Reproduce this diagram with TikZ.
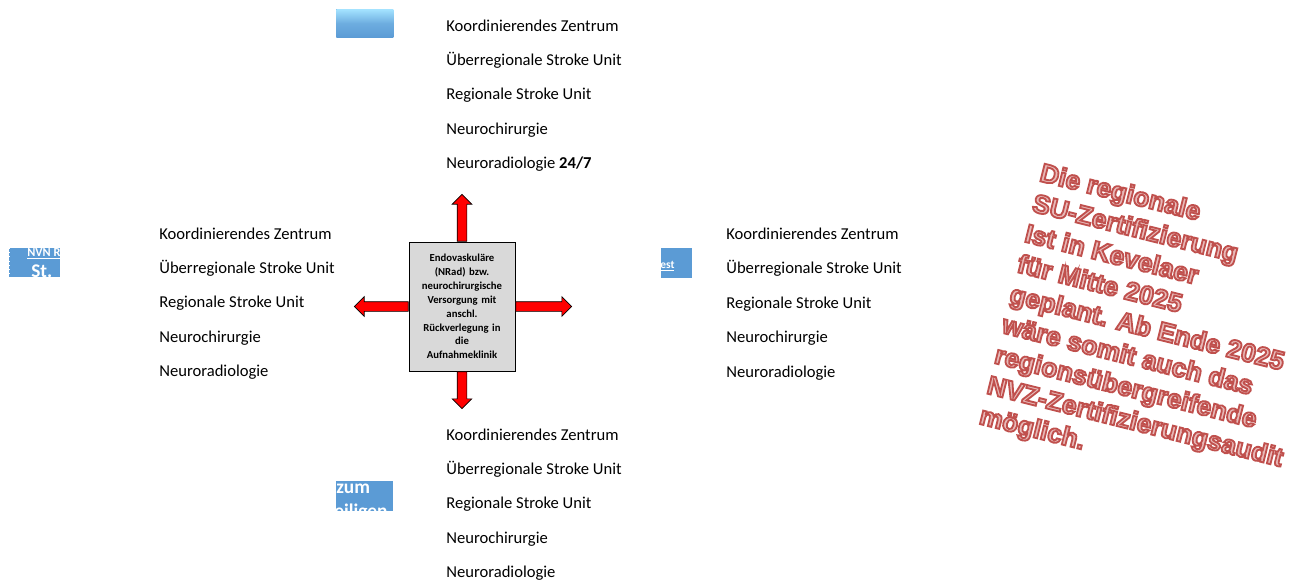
\documentclass[tikz,border=0pt]{standalone}
\usepackage{fontspec}
\setmainfont{Carlito}
\newfontfamily\notefont{Liberation Sans}
\usetikzlibrary{shapes.arrows}
\definecolor{btnblue}{HTML}{5B9BD5}
\definecolor{btnlight}{HTML}{A3E2FF}
\definecolor{notered}{HTML}{C0504D}
\definecolor{notepink}{HTML}{E8BAB9}
\newdimen\pxu \pxu=0.02cm
% outlined text: pink fill, red stroke
\newcommand\outl[1]{\textcolor{notepink}{\special{pdf:literal direct q 2 Tr 1.05 w 0.753 0.314 0.302 RG}#1\special{pdf:literal direct Q}}}

\begin{document}
\begin{tikzpicture}[x=0.02cm,y=-0.02cm,
item/.style={%
anchor=mid west,
inner sep=0pt,
font=\fontsize{9.45}{11}\selectfont
},
core/.style={%
draw,
fill=black!15,
minimum width=106\pxu,
minimum height=129\pxu,
text width=98\pxu,
align=center,
inner sep=0pt,
font=\fontsize{6.1}{7.9}\selectfont\bfseries
},
bigarrow/.style={%
single arrow,
draw,
fill=red,
inner sep=4.5\pxu,
single arrow head extend=5\pxu,
anchor=tail
},
btn/.style={%
fill=btnblue,
anchor=north west,
inner sep=0pt
},
btntext/.style={%
anchor=base west,
inner sep=0pt,
text=white
},
notebox/.style={%
anchor=north west,
rotate=-14,
align=left,
inner sep=0pt,
font=\notefont\bfseries\fontsize{14.9}{17.8}\selectfont
},
]
\useasboundingbox(0,0)rectangle(1299,583);
%% centre
\node[core](core)at(462,306.5){Endovaskuläre\\(NRad) bzw.\\neurochirurgische\\Versorgung mit\\anschl.\\Rückverlegung in\\die\\Aufnahmeklinik};
\node[bigarrow,rotate=90,minimum height=47\pxu](arrN)at(core.north){};
\node[bigarrow,rotate=0,minimum height=56\pxu](arrE)at(core.east){};
\node[bigarrow,rotate=-90,minimum height=37\pxu](arrS)at(core.south){};
\node[bigarrow,rotate=180,minimum height=54\pxu](arrW)at(core.west){};
\begin{scope}[shift={(446,27)}]
%% top
\node[item](n1)at(0,0){Koordinierendes Zentrum};
\node[item](n2)at(0,34){Überregionale Stroke Unit};
\node[item](n3)at(0,68){Regionale Stroke Unit};
\node[item](n4)at(0,103){Neurochirurgie};
\node[item](n5)at(0,137){Neuroradiologie \textbf{24/7}};
\end{scope}
\begin{scope}[shift={(159,235)}]
%% left
\node[item](w1)at(0,0){Koordinierendes Zentrum};
\node[item](w2)at(0,34){Überregionale Stroke Unit};
\node[item](w3)at(0,68){Regionale Stroke Unit};
\node[item](w4)at(0,103){Neurochirurgie};
\node[item](w5)at(0,137){Neuroradiologie};
\end{scope}
\begin{scope}[shift={(726,235)}]
%% right
\node[item](e1)at(0,0){Koordinierendes Zentrum};
\node[item](e2)at(0,34){Überregionale Stroke Unit};
\node[item](e3)at(0,69){Regionale Stroke Unit};
\node[item](e4)at(0,103){Neurochirurgie};
\node[item](e5)at(0,138){Neuroradiologie};
\end{scope}
\begin{scope}[shift={(446,436)}]
%% bottom
\node[item](s1)at(0,0){Koordinierendes Zentrum};
\node[item](s2)at(0,34){Überregionale Stroke Unit};
\node[item](s3)at(0,68){Regionale Stroke Unit};
\node[item](s4)at(0,103){Neurochirurgie};
\node[item](s5)at(0,137){Neuroradiologie};
\end{scope}
%% buttons
\node[btn,minimum width=57\pxu,minimum height=28\pxu,top color=btnlight,bottom color=btnblue,middle color=btnblue!75!btnlight](btnN)at(336,9){};
\node[btn,minimum width=51\pxu,minimum height=29\pxu](btnW)at(9,248){};
\begin{scope}
\clip(btnW.north west)rectangle(btnW.south east);
\node[btntext,font=\fontsize{7}{8}\selectfont\bfseries](btnW1)at(27,256){\underline{NVN R}};
\node[btntext,font=\fontsize{11}{12}\selectfont\bfseries](btnW2)at(31,277){St.};
\end{scope}
\draw[dotted,white](btnW.north west)--(btnW.south west);
\node[btn,minimum width=31\pxu,minimum height=30\pxu](btnE)at(661,248){};
\begin{scope}
\clip(btnE.north west)rectangle(btnE.south east);
\node[btntext,font=\fontsize{6.5}{7}\selectfont\bfseries](btnE1)at(660,268){\underline{est}};
\end{scope}
\draw[dotted,white](btnE.north east)--(btnE.south east);
\node[btn,minimum width=57\pxu,minimum height=30\pxu](btnS)at(336,481){};
\begin{scope}
\clip(btnS.north west)rectangle(btnS.south east);
\node[btntext,font=\fontsize{11}{12}\selectfont\bfseries](btnS1)at(336,493){zum};
\node[btntext,font=\fontsize{11}{12}\selectfont\bfseries](btnS2)at(334,517){eiligen};
\end{scope}
%% note
\node[notebox](note)at(1043,162){\outl{Die regionale}\\\outl{SU-Zertifizierung}\\\outl{Ist in Kevelaer}\\\outl{für Mitte 2025}\\\outl{geplant. Ab Ende 2025}\\\outl{wäre somit auch das}\\\outl{regionsübergreifende}\\\outl{NVZ-Zertifizierungsaudit}\\\outl{möglich.}};
\end{tikzpicture}
\end{document}
